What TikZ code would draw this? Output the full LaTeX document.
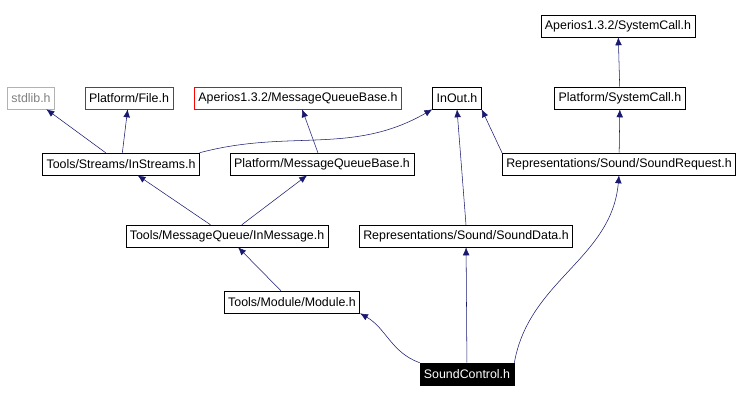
\documentclass[tikz,border=0pt]{standalone}
\usepackage{fontspec}
\setmainfont{Liberation Sans}
\usetikzlibrary{arrows.meta}
\definecolor{navy}{RGB}{25,25,112}
\begin{document}
\begin{tikzpicture}[x=0.75pt,y=-0.75pt,
 box/.style={draw=black,fill=white,minimum height=16.5pt,inner xsep=3pt,inner ysep=1pt,font=\fontsize{9.3}{10}\selectfont},
 redbox/.style={box,draw=red},
 greybox/.style={box,draw=gray!60,text=gray},
 e/.style={draw=navy,-{Latex[length=6pt,width=5pt]}}]
\useasboundingbox (0,0) rectangle (743,401);
\node[box] (asc) at (618,26) {Aperios1.3.2/SystemCall.h};
\node[greybox] (std) at (31,98) {stdlib.h};
\node[redbox] (file) at (129,98) {Platform/File.h};
\node[redbox] (amq) at (298,98) {Aperios1.3.2/MessageQueueBase.h};
\node[box] (io) at (457,98) {InOut.h};
\node[box] (psc) at (620,98) {Platform/SystemCall.h};
\node[box] (ins) at (121,164) {Tools/Streams/InStreams.h};
\node[box] (pmq) at (322,164) {Platform/MessageQueueBase.h};
\node[box] (sr) at (619,164) {Representations/Sound/SoundRequest.h};
\node[box] (im) at (227,236) {Tools/MessageQueue/InMessage.h};
\node[box] (sd) at (466,236) {Representations/Sound/SoundData.h};
\node[box] (mod) at (292,302) {Tools/Module/Module.h};
\node[box,fill=black,text=white] (sc) at (467,374) {SoundControl.h};
\draw[e] (sc.north west) to[out=160,in=-30] (mod.south east);
\draw[e] (sc) -- (sd);
\draw[e] (sc.north east) to[out=80,in=-95] (sr.south);
\draw[e] (mod) -- (im);
\draw[e] (im) -- (ins);
\draw[e] (im) -- (pmq);
\draw[e] (ins) -- (std);
\draw[e] (ins) -- (file);
\draw[e] (ins.north east) to[out=15,in=-150] (io.south west);
\draw[e] (pmq) -- (amq);
\draw[e] (sd.north) -- (io.south);
\draw[e] (sr.north west) -- (io.south east);
\draw[e] (sr) -- (psc);
\draw[e] (psc) -- (asc);
\end{tikzpicture}
\end{document}
